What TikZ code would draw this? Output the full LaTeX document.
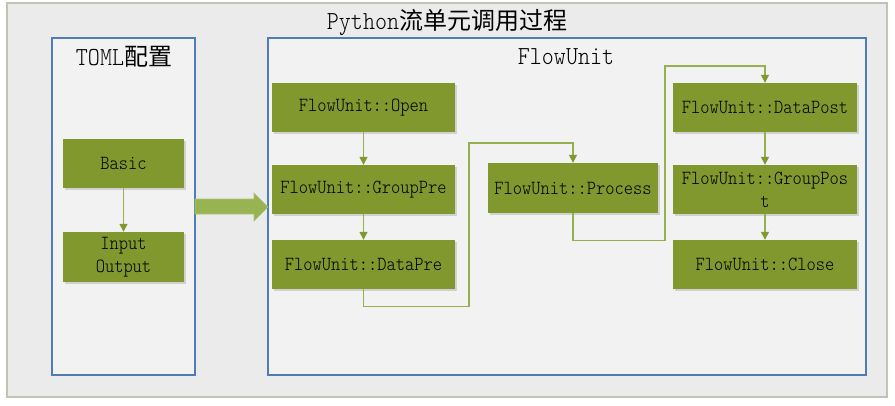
\documentclass[tikz,border=0pt]{standalone}
\usepackage{fontspec}
\newfontfamily\monof{lmmonolt10-regular}[Extension=.otf, FakeStretch=0.88]
\newfontfamily\cjkf{Noto Sans CJK SC}
\usetikzlibrary{arrows.meta,shadows}
\definecolor{olivefill}{RGB}{128,152,46}
\definecolor{connline}{RGB}{150,176,80}
\definecolor{conntip}{RGB}{128,152,46}
\definecolor{boxblue}{RGB}{79,124,182}
\definecolor{outerfill}{RGB}{235,235,235}
\definecolor{outerline}{RGB}{192,196,178}
\definecolor{innerfill}{RGB}{242,242,242}
\definecolor{bigarrow}{RGB}{152,180,82}
\tikzset{
  gbox/.style={draw=none, fill=olivefill, minimum height=49pt, inner sep=0pt,
    align=center, font=\monof\fontsize{20}{23}\selectfont, text=black,
    drop shadow={shadow xshift=1.5pt, shadow yshift=-1.5pt, fill=black!30, opacity=0.5}},
  container/.style={draw=boxblue, line width=1.4pt, fill=innerfill},
  conn/.style={draw=connline, line width=1.3pt, -{Triangle[width=8pt,length=8pt,fill=conntip,color=conntip]}},
}
\begin{document}
\begin{tikzpicture}[x=1pt,y=-1pt]
\useasboundingbox (0,0) rectangle (895,405);
% outer frame
\draw[draw=outerline, line width=1.4pt, fill=outerfill] (7,3) rectangle (887,397);
\node (title) at (447,22) {\fontsize{24}{28}\selectfont{\monof\fontsize{26}{28}\selectfont Python}{\cjkf 流单元调用过程}};
% containers
\draw[container] (52,38) rectangle (195,375);
\draw[container] (268,38) rectangle (866,375);
\node (toml) at (124,57) {\fontsize{24}{28}\selectfont{\monof\fontsize{26}{28}\selectfont TOML}{\cjkf 配置}};
\node (fu) at (566,57) {\monof\fontsize{26}{28}\selectfont FlowUnit};
% big arrow
\fill[bigarrow, draw=bigarrow!80!white, line width=0.6pt]
  (195,199) -- (254,199) -- (254,193) -- (268,207) -- (254,221) -- (254,214) -- (195,214) -- cycle;
% left nodes
\node[gbox, minimum width=121pt] (basic) at (123.5,163.5) {Basic};
\node[gbox, minimum width=121pt, minimum height=50pt] (io) at (123.5,257) {Input\\Output};
% flowunit nodes
\node[gbox, minimum width=183pt] (open) at (363.5,107.5) {FlowUnit::Open};
\node[gbox, minimum width=183pt] (gpre) at (363.5,189.5) {FlowUnit::GroupPre};
\node[gbox, minimum width=183pt] (dpre) at (363.5,264.5) {FlowUnit::DataPre};
\node[gbox, minimum width=170pt, minimum height=50pt] (proc) at (573,188) {FlowUnit::Process};
\node[gbox, minimum width=184pt] (dpost) at (765,107.5) {FlowUnit::DataPost};
\node[gbox, minimum width=184pt] (gpost) at (765,189.5) {FlowUnit::GroupPos\\t};
\node[gbox, minimum width=184pt] (close) at (765,264.5) {FlowUnit::Close};
% connectors
\coordinate (b1) at (469,143);
\coordinate (c1) at (665,66);
\draw[conn] (basic) -- (io);
\draw[conn] (open) -- (gpre);
\draw[conn] (gpre) -- (dpre);
\draw[conn] (dpre.south) -- ++(0,17) -| (b1) -| (proc.north);
\draw[conn] (proc.south) -- ++(0,27) -| (c1) -| (dpost.north);
\draw[conn] (dpost) -- (gpost);
\draw[conn] (gpost) -- (close);
\end{tikzpicture}
\end{document}
